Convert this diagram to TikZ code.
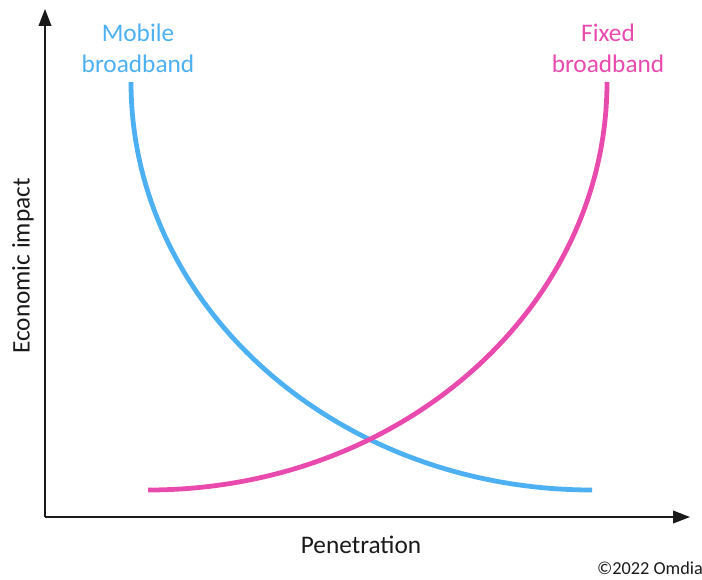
\documentclass[tikz,border=0pt]{standalone}
\usepackage{fontspec}
\setmainfont{Carlito}
\usetikzlibrary{arrows.meta, positioning}
\definecolor{MobileBlue}{HTML}{4DB0F2}
\definecolor{FixedPink}{HTML}{E94AAE}
\definecolor{AxisDark}{HTML}{1A1A1A}
\tikzset{
  axis/.style={-{Triangle[length=12pt, width=9pt]}, line width=1.1pt, color=AxisDark},
  curve/.style={line width=3.4pt},
  lbl/.style={font=\fontsize{18}{22}\selectfont, align=center, inner sep=0pt},
}

\begin{document}
\begin{tikzpicture}[x=0.025cm, y=-0.025cm]
  \useasboundingbox (0,0) rectangle (702,579);

  % axes
  \coordinate (origin) at (45,517);
  \coordinate (ytop)   at (45,9);
  \coordinate (xend)   at (690,517);
  \draw[axis] (origin) -- (ytop);
  \draw[axis] (origin) -- (xend);

  % impact curves (quarter ellipses)
  \draw[curve, MobileBlue] (131,82) arc[start angle=180, end angle=270, x radius=461, y radius=-408];
  \draw[curve, FixedPink]  (148,490) arc[start angle=-90, end angle=0, x radius=459, y radius=-408];

  % labels
  \node (mobile) [lbl, text=MobileBlue] at (138,48) {Mobile\\broadband};
  \node (fixed)  [lbl, text=FixedPink]  at (608,48) {Fixed\\broadband};
  \node (xlbl)   [lbl, text=AxisDark]   at (361,545) {Penetration};
  \node (ylbl)   [lbl, text=AxisDark, rotate=90] at (23,266) {Economic impact};
  \node (copy)   [font=\fontsize{13}{15}\selectfont, text=AxisDark, inner sep=0pt] at (650,568) {©2022 Omdia};
\end{tikzpicture}
\end{document}
